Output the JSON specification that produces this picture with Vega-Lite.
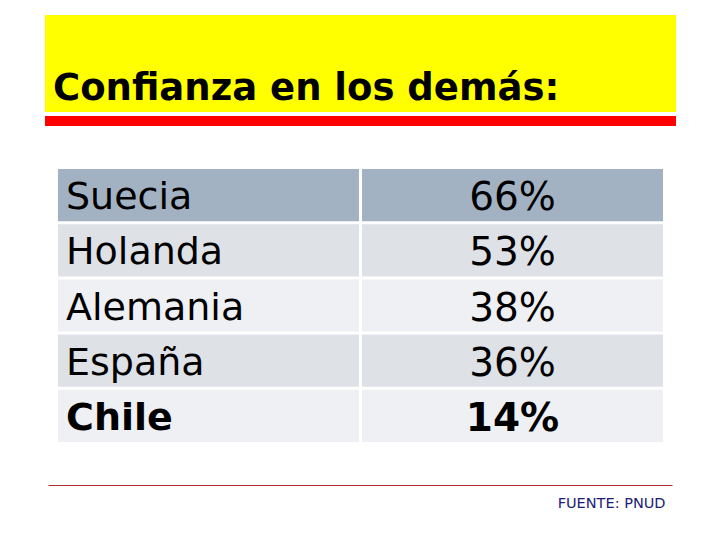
{
  "$schema": "https://vega.github.io/schema/vega-lite/v6.json",
  "background": "white",
  "padding": {"left": 45, "top": 15, "right": 40, "bottom": 10},
  "config": {"view": {"stroke": null}},
  "center": true,
  "spacing": 43,
  "vconcat": [
    {
      "spacing": 4,
      "vconcat": [
        {
          "width": 631,
          "height": 97,
          "data": {"values": [{"titulo": "Confianza en los demás:"}]},
          "title": {
            "text": "Confianza en los demás:",
            "orient": "bottom",
            "anchor": "start",
            "baseline": "alphabetic",
            "offset": -12,
            "dx": 8,
            "font": "DejaVu Sans",
            "fontWeight": "bold",
            "fontSize": 37,
            "color": "black"
          },
          "mark": {"type": "rect", "color": "#ffff00"},
          "encoding": {}
        },
        {
          "width": 631,
          "height": 10,
          "data": {"values": [{"barra": 1}]},
          "mark": {"type": "rect", "color": "#ff0000"},
          "encoding": {}
        }
      ]
    },
    {
      "width": 605,
      "height": 273,
      "data": {
        "values": [
          {"pais": "Suecia", "confianza": 0.66},
          {"pais": "Holanda", "confianza": 0.53},
          {"pais": "Alemania", "confianza": 0.38},
          {"pais": "España", "confianza": 0.36},
          {"pais": "Chile", "confianza": 0.14}
        ]
      },
      "encoding": {
        "y": {
          "field": "pais",
          "type": "nominal",
          "sort": null,
          "axis": null,
          "scale": {"paddingInner": 0.0545, "paddingOuter": 0}
        }
      },
      "layer": [
        {
          "mark": "rect",
          "encoding": {
            "x": {"datum": "País", "type": "nominal", "axis": null,
              "scale": {"domain": ["País", "Valor"], "paddingInner": 0.01, "paddingOuter": 0}},
            "color": {
              "field": "pais", "type": "nominal", "legend": null,
              "scale": {
                "domain": ["Suecia", "Holanda", "Alemania", "España", "Chile"],
                "range": ["#a3b2c2", "#dee1e6", "#eff0f3", "#dee1e6", "#eff0f3"]
              }
            }
          }
        },
        {
          "mark": "rect",
          "encoding": {
            "x": {"datum": "Valor", "type": "nominal"},
            "color": {"field": "pais", "type": "nominal"}
          }
        },
        {
          "transform": [{"filter": "datum.pais != 'Chile'"}],
          "mark": {"type": "text", "align": "left", "baseline": "middle", "dx": 8, "dy": 3,
            "font": "DejaVu Sans", "fontSize": 38, "color": "black"},
          "encoding": {
            "x": {"datum": "País", "type": "nominal", "bandPosition": 0},
            "text": {"field": "pais"}
          }
        },
        {
          "transform": [{"filter": "datum.pais != 'Chile'"}],
          "mark": {"type": "text", "align": "center", "baseline": "middle", "dy": 3,
            "font": "DejaVu Sans", "fontSize": 39, "color": "black"},
          "encoding": {
            "x": {"datum": "Valor", "type": "nominal"},
            "text": {"field": "confianza", "type": "quantitative", "format": ".0%"}
          }
        },
        {
          "transform": [{"filter": "datum.pais == 'Chile'"}],
          "mark": {"type": "text", "align": "left", "baseline": "middle", "dx": 8, "dy": 3,
            "font": "DejaVu Sans", "fontWeight": "bold", "fontSize": 38, "color": "black"},
          "encoding": {
            "x": {"datum": "País", "type": "nominal", "bandPosition": 0},
            "text": {"field": "pais"}
          }
        },
        {
          "transform": [{"filter": "datum.pais == 'Chile'"}],
          "mark": {"type": "text", "align": "center", "baseline": "middle", "dy": 3,
            "font": "DejaVu Sans", "fontWeight": "bold", "fontSize": 39, "color": "black"},
          "encoding": {
            "x": {"datum": "Valor", "type": "nominal"},
            "text": {"field": "confianza", "type": "quantitative", "format": ".0%"}
          }
        }
      ]
    },
    {
      "width": 624,
      "height": 1,
      "data": {"values": [{"fuente": "PNUD"}]},
      "title": {
        "text": "FUENTE: PNUD",
        "orient": "bottom",
        "anchor": "end",
        "baseline": "alphabetic",
        "offset": 22,
        "dx": -7,
        "font": "DejaVu Sans",
        "fontWeight": "normal",
        "fontSize": 14.5,
        "color": "#1c1c78"
      },
      "mark": {"type": "rect", "color": "#b02a30"},
      "encoding": {}
    }
  ]
}
